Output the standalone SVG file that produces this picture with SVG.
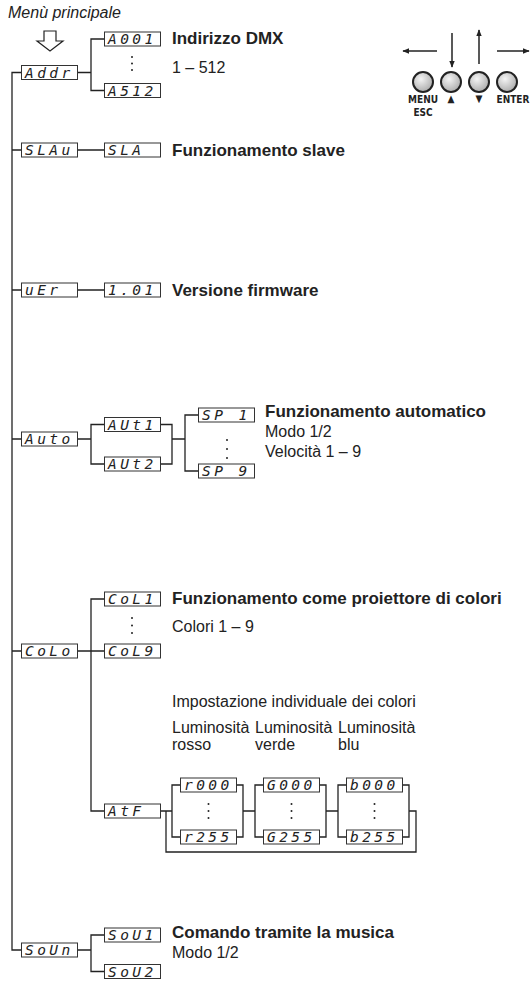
<svg xmlns="http://www.w3.org/2000/svg" width="531" height="981" viewBox="0 0 531 981">
<defs>
<style>
.box{fill:#fff;stroke:#333;stroke-width:1}
.seg{font-family:"DejaVu Sans Mono","Liberation Mono",monospace;font-size:14.5px;font-style:italic;letter-spacing:3.4px;fill:#222;white-space:pre}
.ln{fill:none;stroke:#222;stroke-width:1.3}
.b{font-family:"Liberation Sans",Arial,sans-serif;font-weight:bold;font-size:17px;fill:#222}
.t{font-family:"Liberation Sans",Arial,sans-serif;font-size:16px;fill:#222}
.it{font-family:"Liberation Sans",Arial,sans-serif;font-size:16px;font-style:italic;fill:#222}
.lbl{font-family:"DejaVu Sans Condensed","Liberation Sans Narrow","Liberation Sans",sans-serif;font-weight:bold;font-size:10px;fill:#222;text-anchor:middle}
.dot{fill:#222}
.btn{fill:url(#bg);stroke:#222;stroke-width:2}
.arr{fill:none;stroke:#222;stroke-width:1.5;marker-end:url(#ah)}
</style>
<radialGradient id="bg" cx="0.4" cy="0.35" r="0.7">
<stop offset="0" stop-color="#f4f4f4"/>
<stop offset="1" stop-color="#a8a8a8"/>
</radialGradient>
<marker id="ah" viewBox="0 0 10 10" refX="9" refY="5" markerWidth="7" markerHeight="7" markerUnits="userSpaceOnUse" orient="auto">
<path d="M0,1 L10,5 L0,9 Z" fill="#222"/>
</marker>
</defs>
<rect width="531" height="981" fill="#fff"/>

<text class="it" x="8" y="18">Menù principale</text>
<polygon points="44,31 56,31 56,41 63,41 50,51 37,41 44,41" fill="#fff" stroke="#222" stroke-width="1.2"/>

<g id="panel">
<line class="arr" x1="437" y1="51" x2="403" y2="51"/>
<line class="arr" x1="452" y1="33" x2="452" y2="67"/>
<line class="arr" x1="479" y1="64" x2="479" y2="30"/>
<line class="arr" x1="497" y1="51" x2="529" y2="51"/>
<circle class="btn" cx="423" cy="82" r="10"/>
<circle class="btn" cx="451" cy="82" r="10"/>
<circle class="btn" cx="479" cy="82" r="10"/>
<circle class="btn" cx="507" cy="82" r="10"/>
<text class="lbl" x="423" y="103">MENU</text>
<text class="lbl" x="423" y="116">ESC</text>
<text class="lbl" x="451" y="102">▲</text>
<text class="lbl" x="479" y="102">▼</text>
<text class="lbl" x="513" y="103">ENTER</text>
</g>

<g id="connectors">
<path class="ln" d="M21,72.5 H12 V950 H21 M12,150 H21 M12,290 H21 M12,439 H21 M12,651 H21"/>
<path class="ln" d="M78,72.5 H91 M104,39 H91 V90.5 H104"/>
<path class="ln" d="M78,150 H104 M78,290 H104"/>
<path class="ln" d="M78,439 H91 M104,424.5 H91 V464 H104 M161,424.5 H172 V464 H161 M172,439 H185 M198,415 H185 V471 H198"/>
<path class="ln" d="M78,651 H91 M104,599 H91 V811 H104 M91,651 H104"/>
<path class="ln" d="M161,811 H172 M180,785 H172 V837 H180 M236,785 H243 V837 H236 M243,811 H255 M263,785 H255 V837 H263 M319,785 H326 V837 H319 M326,811 H338 M346,785 H338 V837 H346 M402,785 H409 V837 H402 M409,811 H416 V852 H166 V811"/>
<path class="ln" d="M78,950 H91 M104,935 H91 V971.5 H104"/>
</g>

<g id="n-addr"><rect class="box" x="21.5" y="65.5" width="56" height="14"/><text class="seg" x="25" y="77.5">Addr</text></g>
<g id="n-a001"><rect class="box" x="104.5" y="32" width="56" height="14"/><text class="seg" x="108" y="44">A001</text></g>
<g id="n-a512"><rect class="box" x="104.5" y="83.5" width="56" height="14"/><text class="seg" x="108" y="95.5">A512</text></g>
<g id="dots-addr"><circle class="dot" cx="132" cy="57" r="1"/><circle class="dot" cx="132" cy="63.5" r="1"/><circle class="dot" cx="132" cy="70" r="1"/></g>
<text class="b" x="172" y="44">Indirizzo DMX</text>
<text class="t" x="172" y="73">1 – 512</text>

<g id="n-slau"><rect class="box" x="21.5" y="143" width="56" height="14"/><text class="seg" x="25" y="155">SLAu</text></g>
<g id="n-sla"><rect class="box" x="104.5" y="143" width="56" height="14"/><text class="seg" x="108" y="155">SLA</text></g>
<text class="b" x="172" y="156">Funzionamento slave</text>

<g id="n-uer"><rect class="box" x="21.5" y="283" width="56" height="14"/><text class="seg" x="25" y="295">uEr</text></g>
<g id="n-ver"><rect class="box" x="104.5" y="283" width="56" height="14"/><text class="seg" x="108" y="295">1.01</text></g>
<text class="b" x="172" y="296">Versione firmware</text>

<g id="n-auto"><rect class="box" x="21.5" y="432" width="56" height="14"/><text class="seg" x="25" y="444">Auto</text></g>
<g id="n-aut1"><rect class="box" x="104.5" y="417.5" width="56" height="14"/><text class="seg" x="108" y="429.5">AUt1</text></g>
<g id="n-aut2"><rect class="box" x="104.5" y="457" width="56" height="14"/><text class="seg" x="108" y="469">AUt2</text></g>
<g id="n-sp1"><rect class="box" x="198.5" y="408" width="56" height="14"/><text class="seg" x="202" y="420">SP 1</text></g>
<g id="n-sp9"><rect class="box" x="198.5" y="464" width="56" height="14"/><text class="seg" x="202" y="476">SP 9</text></g>
<g id="dots-sp"><circle class="dot" cx="227" cy="440" r="1"/><circle class="dot" cx="227" cy="449" r="1"/><circle class="dot" cx="227" cy="458" r="1"/></g>
<text class="b" x="265" y="417">Funzionamento automatico</text>
<text class="t" x="265" y="437">Modo 1/2</text>
<text class="t" x="265" y="457">Velocità 1 – 9</text>

<g id="n-colo"><rect class="box" x="21.5" y="644" width="56" height="14"/><text class="seg" x="25" y="656">CoLo</text></g>
<g id="n-col1"><rect class="box" x="104.5" y="592" width="56" height="14"/><text class="seg" x="108" y="604">CoL1</text></g>
<g id="n-col9"><rect class="box" x="104.5" y="644" width="56" height="14"/><text class="seg" x="108" y="656">CoL9</text></g>
<g id="dots-col"><circle class="dot" cx="132" cy="618" r="1"/><circle class="dot" cx="132" cy="625.5" r="1"/><circle class="dot" cx="132" cy="633" r="1"/></g>
<text class="b" x="172" y="604">Funzionamento come proiettore di colori</text>
<text class="t" x="172" y="632">Colori 1 – 9</text>
<text class="t" x="172" y="707">Impostazione individuale dei colori</text>
<text class="t" x="172" y="733">Luminosità</text>
<text class="t" x="172" y="750">rosso</text>
<text class="t" x="255" y="733">Luminosità</text>
<text class="t" x="255" y="750">verde</text>
<text class="t" x="338" y="733">Luminosità</text>
<text class="t" x="338" y="750">blu</text>

<g id="n-atf"><rect class="box" x="104.5" y="804" width="56" height="14"/><text class="seg" x="108" y="816">AtF</text></g>
<g id="n-r000"><rect class="box" x="180.5" y="778" width="56" height="14"/><text class="seg" x="184" y="790">r000</text></g>
<g id="n-r255"><rect class="box" x="180.5" y="830" width="56" height="14"/><text class="seg" x="184" y="842">r255</text></g>
<g id="n-g000"><rect class="box" x="263.5" y="778" width="56" height="14"/><text class="seg" x="267" y="790">G000</text></g>
<g id="n-g255"><rect class="box" x="263.5" y="830" width="56" height="14"/><text class="seg" x="267" y="842">G255</text></g>
<g id="n-b000"><rect class="box" x="346.5" y="778" width="56" height="14"/><text class="seg" x="350" y="790">b000</text></g>
<g id="n-b255"><rect class="box" x="346.5" y="830" width="56" height="14"/><text class="seg" x="350" y="842">b255</text></g>
<g id="dots-rgb"><circle class="dot" cx="208.5" cy="804" r="1"/><circle class="dot" cx="208.5" cy="811" r="1"/><circle class="dot" cx="208.5" cy="818" r="1"/><circle class="dot" cx="291.5" cy="804" r="1"/><circle class="dot" cx="291.5" cy="811" r="1"/><circle class="dot" cx="291.5" cy="818" r="1"/><circle class="dot" cx="374.5" cy="804" r="1"/><circle class="dot" cx="374.5" cy="811" r="1"/><circle class="dot" cx="374.5" cy="818" r="1"/></g>

<g id="n-soun"><rect class="box" x="21.5" y="943" width="56" height="14"/><text class="seg" x="25" y="955">SoUn</text></g>
<g id="n-sou1"><rect class="box" x="104.5" y="928" width="56" height="14"/><text class="seg" x="108" y="940">SoU1</text></g>
<g id="n-sou2"><rect class="box" x="104.5" y="964.5" width="56" height="14"/><text class="seg" x="108" y="976.5">SoU2</text></g>
<text class="b" x="172" y="938">Comando tramite la musica</text>
<text class="t" x="172" y="958">Modo 1/2</text>
</svg>
